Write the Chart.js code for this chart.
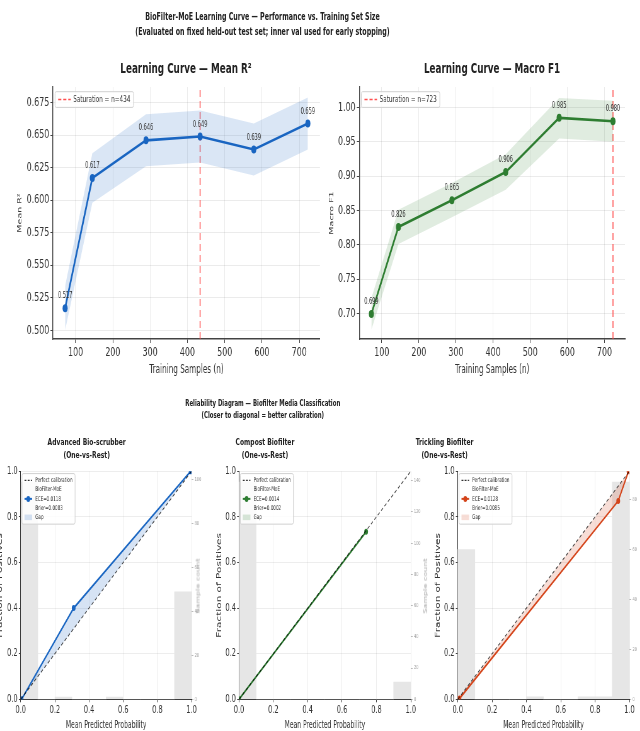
<!DOCTYPE html>
<html>
<head>
<meta charset="utf-8">
<script src="https://cdn.jsdelivr.net/npm/chart.js@4.4.1/dist/chart.umd.min.js"></script>
<style>
html, body { margin: 0; padding: 0; overflow: hidden; background: #fff; width: 640px; height: 731px; }
#stage { position: absolute; left: 0; top: 0; width: 1016px; height: 731px; transform: scaleX(0.63); transform-origin: 0 0; font-family: 'DejaVu Sans', sans-serif; color: #222; }
#stage canvas { position: absolute; }
.t { position: absolute; transform: translateX(-50%); text-align: center; white-space: pre; font-weight: bold; }
.side { position: absolute; transform: translate(-50%, -50%) rotate(-90deg); white-space: pre; color: #aaa; font-size: 8px; }
</style>
</head>
<body>
<div id="stage">
  <div class="t" style="left:416.7px;top:9px;font-size:10px;line-height:15px">BioFilter-MoE Learning Curve — Performance vs. Training Set Size
(Evaluated on fixed held-out test set; inner val used for early stopping)</div>
  <div class="t" style="left:295.2px;top:59.5px;font-size:14px;line-height:16px">Learning Curve — Mean R²</div>
  <div class="t" style="left:781px;top:59.5px;font-size:14px;line-height:16px">Learning Curve — Macro F1</div>
  <div class="t" style="left:417.1px;top:396.5px;font-size:8.6px;line-height:12.3px">Reliability Diagram — Biofilter Media Classification
(Closer to diagonal = better calibration)</div>
  <div class="t" style="left:137.6px;top:436.4px;font-size:9.5px;line-height:12.2px">Advanced Bio-scrubber
(One-vs-Rest)</div>
  <div class="t" style="left:420.6px;top:436.4px;font-size:9.5px;line-height:12.2px">Compost Biofilter
(One-vs-Rest)</div>
  <div class="t" style="left:705.7px;top:436.4px;font-size:9.5px;line-height:12.2px">Trickling Biofilter
(One-vs-Rest)</div>

  <canvas id="lcR2" width="520" height="325" style="left:0px;top:60px"></canvas>
  <canvas id="lcF1" width="482" height="325" style="left:520px;top:60px"></canvas>
  <canvas id="relA" width="344" height="275" style="left:-12px;top:463px"></canvas>
  <canvas id="relB" width="345" height="275" style="left:335px;top:463px"></canvas>
  <canvas id="relC" width="345" height="275" style="left:682px;top:463px"></canvas>

  <div class="side" style="left:314.8px;top:586px">Sample count</div>
  <div class="side" style="left:676.2px;top:586px">Sample count</div>
  <div class="side" style="left:1026px;top:586px">Sample count</div>
</div>

<script>
// learning curve data
const trainN = [72, 145, 289, 434, 578, 723];
const r2Mean = [0.517, 0.617, 0.646, 0.649, 0.639, 0.659];
const r2Upper = [0.534, 0.636, 0.666, 0.669, 0.659, 0.679];
const r2Lower = [0.500, 0.598, 0.626, 0.629, 0.619, 0.639];
const f1Mean = [0.699, 0.826, 0.865, 0.906, 0.985, 0.980];
const f1Upper = [0.722, 0.851, 0.890, 0.932, 1.014, 1.010];
const f1Lower = [0.676, 0.801, 0.840, 0.880, 0.955, 0.950];
const r2Saturation = 434;
const f1Saturation = 723;

// reliability data
const diagX = [0, 1];
const diagY = [0, 1];
const binCenters = [0.05, 0.15, 0.25, 0.35, 0.45, 0.55, 0.65, 0.75, 0.85, 0.95];
const scrubberProb = [0.005, 0.31, 0.995];
const scrubberFrac = [0.0, 0.40, 1.0];
const scrubberCounts = [99, 0, 1, 0, 0, 1, 0, 0, 0, 49];
const compostProb = [0.0, 0.74];
const compostFrac = [0.0, 0.735];
const compostCounts = [139, 0, 0, 0, 0, 0, 0, 0, 0, 11];
const tricklingProb = [0.01, 0.935, 0.995];
const tricklingFrac = [0.003, 0.87, 1.0];
const tricklingCounts = [60, 0, 0, 0, 1, 0, 0, 1, 1, 87];

Chart.defaults.font.family = "'DejaVu Sans', sans-serif";
Chart.defaults.color = '#333';

const pts = (xs, ys) => xs.map((x, i) => ({ x, y: ys[i] }));

const valueLabels = {
    id: 'valueLabels',
    afterDatasetsDraw(chart, args, o) {
        const { ctx } = chart;
        chart.data.datasets.forEach((ds, i) => {
            if (!ds.valueLabels) return;
            const meta = chart.getDatasetMeta(i);
            ctx.save();
            ctx.font = `${o.size || 8}px 'DejaVu Sans'`;
            ctx.fillStyle = '#333';
            ctx.textAlign = 'center';
            ctx.textBaseline = 'middle';
            meta.data.forEach((pt, j) => ctx.fillText(ds.data[j].y.toFixed(3), pt.x, pt.y - (o.offset || 12)));
            ctx.restore();
        });
    }
};

const boxLegend = {
    id: 'boxLegend',
    afterDraw(chart, args, o) {
        if (!o.items) return;
        const { ctx, chartArea } = chart;
        ctx.save();
        ctx.font = `${o.size}px 'DejaVu Sans'`;
        const lh = o.size * o.lineGap;
        let rows = 0, tw = 0;
        o.items.forEach(it => it.text.forEach(t => { rows++; tw = Math.max(tw, ctx.measureText(t).width); }));
        const x0 = chartArea.left + o.dx, y0 = chartArea.top + o.dy;
        const w = o.pad + o.handle + o.gap + tw + o.pad;
        const h = o.padY * 2 + rows * lh;
        ctx.fillStyle = 'rgba(255,255,255,0.82)';
        ctx.strokeStyle = '#d0d0d0';
        ctx.lineWidth = 1;
        ctx.beginPath();
        ctx.roundRect(x0, y0, w, h, 2);
        ctx.fill();
        ctx.stroke();
        let r = 0;
        o.items.forEach(it => {
            const cy = y0 + o.padY + lh * (r + it.text.length / 2);
            const hx = x0 + o.pad;
            if (it.patch) {
                ctx.fillStyle = it.patch;
                ctx.fillRect(hx, cy - lh * 0.3, o.handle, lh * 0.6);
            } else {
                ctx.strokeStyle = it.color;
                ctx.lineWidth = it.width;
                ctx.setLineDash(it.dash || []);
                ctx.beginPath();
                ctx.moveTo(hx, cy);
                ctx.lineTo(hx + o.handle, cy);
                ctx.stroke();
                ctx.setLineDash([]);
                if (it.marker) {
                    ctx.fillStyle = it.color;
                    ctx.beginPath();
                    ctx.arc(hx + o.handle / 2, cy, it.marker, 0, Math.PI * 2);
                    ctx.fill();
                }
            }
            ctx.fillStyle = '#333';
            ctx.textBaseline = 'middle';
            ctx.textAlign = 'left';
            it.text.forEach((t, k) => ctx.fillText(t, hx + o.handle + o.gap, y0 + o.padY + lh * (r + k + 0.5)));
            r += it.text.length;
        });
        ctx.restore();
    }
};

Chart.register(valueLabels, boxLegend);

const lcXMin = 39.5, lcXMax = 755.5;

function learningChart(id, mean, upper, lower, satN, color, band, yMin, yMax, step, digits, yTitle, yAxisW, yTitlePad, padRight) {
    return new Chart(document.getElementById(id), {
        type: 'line',
        data: {
            datasets: [
                { data: pts(trainN, lower), borderWidth: 0, pointRadius: 0, fill: false },
                { data: pts(trainN, upper), borderWidth: 0, backgroundColor: band, pointRadius: 0, fill: '-1' },
                { data: pts(trainN, mean), borderColor: color, backgroundColor: color, borderWidth: 2.6, pointRadius: 4, pointBorderWidth: 0, fill: false, valueLabels: true },
                { data: [{ x: satN, y: yMin }, { x: satN, y: yMax }], borderColor: 'rgba(255,70,70,0.85)', borderDash: [7, 4], borderWidth: 1.6, pointRadius: 0, fill: false }
            ]
        },
        options: {
            responsive: false,
            animation: false,
            layout: { padding: { left: 0, top: 27, right: padRight, bottom: 0 } },
            plugins: {
                legend: { display: false },
                tooltip: { enabled: false },
                valueLabels: { size: 8, offset: 12 },
                boxLegend: {
                    size: 9, lineGap: 1.3, pad: 5, padY: 2, handle: 20, gap: 4, dx: 3.2, dy: 4.7,
                    items: [{ text: [`Saturation = n=${satN}`], color: 'rgba(255,60,60,0.9)', width: 1.6, dash: [5, 3] }]
                }
            },
            scales: {
                x: {
                    type: 'linear', min: lcXMin, max: lcXMax,
                    afterFit: s => { s.height = 46; },
                    ticks: { stepSize: 100, includeBounds: false, font: { size: 12.5 }, color: '#333', padding: 2, maxRotation: 0 },
                    grid: { color: 'rgba(0,0,0,0.08)', tickColor: '#444', tickLength: 4 },
                    border: { color: '#444', width: 1.4 },
                    title: { display: true, text: 'Training Samples (n)', font: { size: 11.5 }, color: '#333', padding: { top: 0, bottom: 8 } }
                },
                y: {
                    min: yMin, max: yMax,
                    afterFit: s => { s.width = yAxisW; },
                    ticks: { stepSize: step, includeBounds: false, font: { size: 12.5 }, color: '#333', padding: 2, callback: v => v.toFixed(digits) },
                    grid: { color: 'rgba(0,0,0,0.08)', tickColor: '#444', tickLength: 4 },
                    border: { color: '#444', width: 1.4 },
                    title: { display: true, text: yTitle, font: { size: 9.5 }, color: '#333', padding: { top: yTitlePad, bottom: 0 } }
                }
            }
        }
    });
}

learningChart('lcR2', r2Mean, r2Upper, r2Lower, r2Saturation, '#1a66c2', 'rgba(26,102,194,0.16)',
    0.4933, 0.687, 0.025, 3, 'Mean R²', 84.1, 26, 12.1);
learningChart('lcF1', f1Mean, f1Upper, f1Lower, f1Saturation, '#2e7d32', 'rgba(46,125,50,0.15)',
    0.6625, 1.030, 0.05, 2, 'Macro F1', 50.3, 0.8, 9.9);

function reliabilityChart(id, probs, fracs, counts, countMax, color, fillColor, ece, brier, yAxisW, yTitlePad) {
    return new Chart(document.getElementById(id), {
        type: 'line',
        data: {
            datasets: [
                { data: pts(diagX, diagY), borderColor: 'rgba(0,0,0,0.75)', borderDash: [4, 3], borderWidth: 1.1, pointRadius: 0, fill: false },
                { data: pts(probs, fracs), borderColor: color, backgroundColor: fillColor, borderWidth: 2, pointRadius: 3, pointBackgroundColor: color, pointBorderWidth: 0, fill: { target: 0 } },
                { type: 'bar', data: pts(binCenters, counts), yAxisID: 'y2', backgroundColor: '#e6e6e6', barPercentage: 1, categoryPercentage: 1, order: 10 }
            ]
        },
        options: {
            responsive: false,
            animation: false,
            layout: { padding: { left: 0, top: 8, right: 0, bottom: 0 } },
            plugins: {
                legend: { display: false },
                tooltip: { enabled: false },
                boxLegend: {
                    size: 6.5, lineGap: 1.42, pad: 4, padY: 2.2, handle: 12, gap: 5, dx: 2, dy: 2.3,
                    items: [
                        { text: ['Perfect calibration'], color: 'rgba(0,0,0,0.8)', width: 1.1, dash: [3, 2] },
                        { text: ['BioFilter-MoE', `ECE=${ece}`, `Brier=${brier}`], color: color, width: 2, marker: 3 },
                        { text: ['Gap'], patch: fillColor }
                    ]
                }
            },
            scales: {
                x: {
                    type: 'linear', min: 0, max: 1, offset: false,
                    afterFit: s => { s.height = 38.7; },
                    ticks: { stepSize: 0.2, font: { size: 10.5 }, color: '#333', padding: 2, maxRotation: 0, callback: v => v.toFixed(1) },
                    grid: { offset: false, color: 'rgba(0,0,0,0.07)', tickColor: '#444', tickLength: 3 },
                    border: { color: '#333', width: 1 },
                    title: { display: true, text: 'Mean Predicted Probability', font: { size: 9.6 }, color: '#333', padding: { top: 0, bottom: 6.5 } }
                },
                y: {
                    position: 'left', min: 0, max: 1,
                    afterFit: s => { s.width = yAxisW; },
                    ticks: { stepSize: 0.2, font: { size: 10.5 }, color: '#333', padding: 2, callback: v => v.toFixed(1) },
                    grid: { color: 'rgba(0,0,0,0.07)', tickColor: '#444', tickLength: 3 },
                    border: { color: '#333', width: 1 },
                    title: { display: true, text: 'Fraction of Positives', font: { size: 10.5 }, color: '#333', padding: { top: yTitlePad, bottom: 0 } }
                },
                y2: {
                    position: 'right', min: 0, max: countMax,
                    afterFit: s => { s.width = 28; },
                    ticks: { stepSize: 20, includeBounds: false, font: { size: 5.5 }, color: '#999', padding: 2 },
                    grid: { drawOnChartArea: false, tickColor: '#bbb', tickLength: 3 },
                    border: { display: false }
                }
            }
        }
    });
}

reliabilityChart('relA', scrubberProb, scrubberFrac, scrubberCounts, 103.95, '#1a66c2', 'rgba(26,102,194,0.18)', '0.0118', '0.0083', 44.9, 6);
reliabilityChart('relB', compostProb, compostFrac, compostCounts, 145.95, '#2e7d32', 'rgba(46,125,50,0.18)', '0.0014', '0.0002', 44.4, 7.4);
reliabilityChart('relC', tricklingProb, tricklingFrac, tricklingCounts, 91.35, '#d4441a', 'rgba(212,68,26,0.18)', '0.0128', '0.0085', 44.5, 7.4);
</script>
</body>
</html>
